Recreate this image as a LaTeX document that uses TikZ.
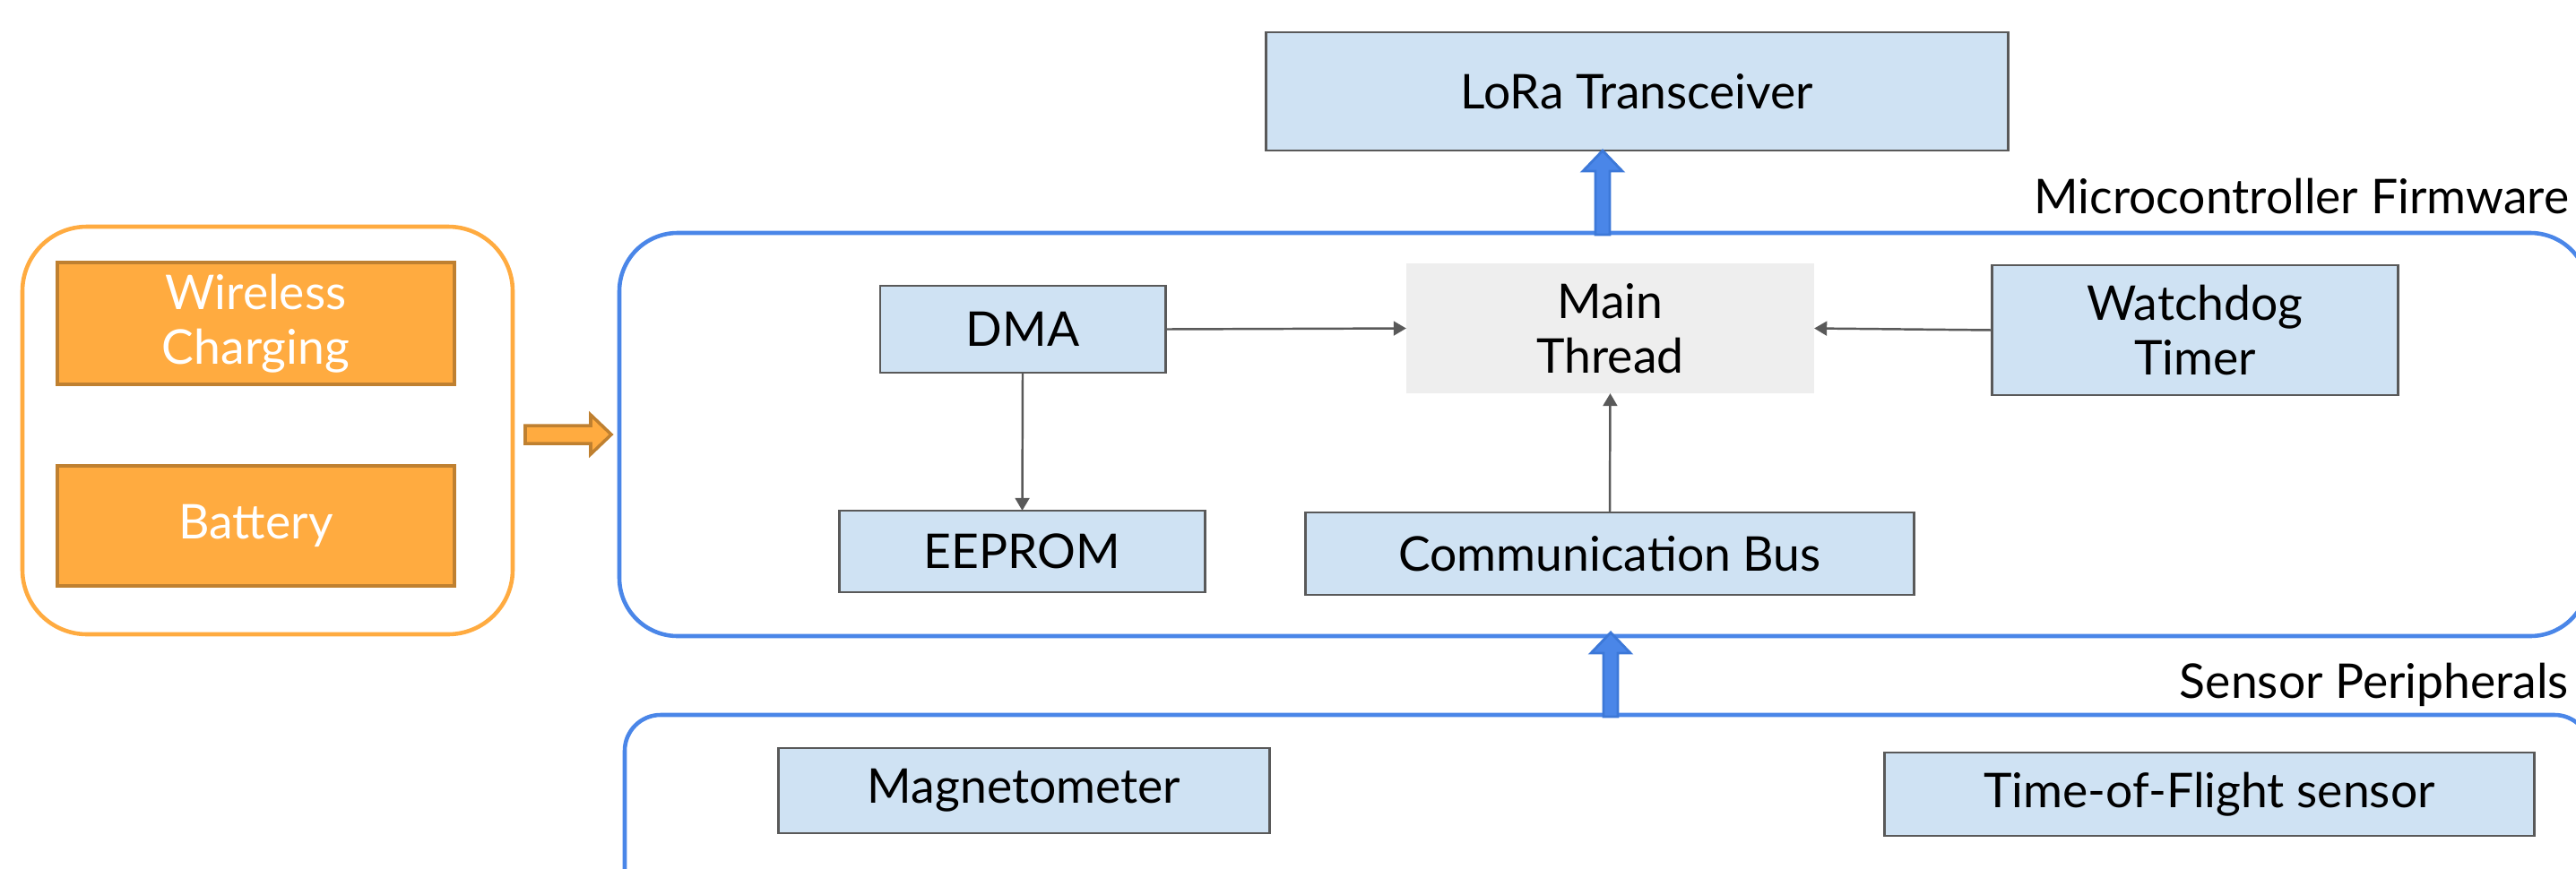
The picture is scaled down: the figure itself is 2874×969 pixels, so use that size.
\documentclass[tikz,border=0pt]{standalone}
\usepackage{fontspec}
\setmainfont{Lato}
\usetikzlibrary{arrows.meta,calc}
\definecolor{boxblue}{HTML}{CFE2F3}
\definecolor{boxedge}{HTML}{595959}
\definecolor{orfill}{HTML}{FFAB40}
\definecolor{oredge}{HTML}{BF8030}
\definecolor{lineblue}{HTML}{4A86E8}
\definecolor{arrowedge}{HTML}{3C78D8}
\definecolor{mainfill}{HTML}{EEEEEE}
\begin{document}
\begin{tikzpicture}[x=0.01cm,y=-0.01cm,
  every node/.style={font=\fontsize{15.2pt}{17.4pt}\selectfont, inner sep=0pt, outer sep=0pt, align=center},
  bluebox/.style={rectangle, fill=boxblue, draw=boxedge, line width=0.8pt},
  orbox/.style={rectangle, fill=orfill, draw=oredge, line width=1.1pt, text=white},
  mainbox/.style={rectangle, fill=mainfill},
  container/.style={draw=lineblue, line width=1.3pt},
  orcontainer/.style={draw=orfill, line width=1.3pt, rounded corners=0.72cm},
  thinarrow/.style={draw=boxedge, line width=0.7pt, -{Triangle[length=4pt,width=4.5pt]}},
  bluearrow/.style={fill=lineblue, draw=arrowedge, line width=0.8pt, line join=miter},
  orarrow/.style={fill=orfill, draw=oredge, line width=1pt, line join=miter}
]
\useasboundingbox (0,0) rectangle (2874,969);
\clip (0,0) rectangle (2874,969);

% containers
\draw[orcontainer] (25,253) rectangle (572,708);
\draw[container, rounded corners=0.65cm] (691,260) rectangle (2888,710);
\draw[container, rounded corners=0.4cm] (697,798) rectangle (2890,1100);

% labels
\node[anchor=base east] (fwlabel) at (2866,238) {Microcontroller Firmware};
\node[anchor=base east] (senslabel) at (2866,779) {Sensor Peripherals};

% nodes
\node[bluebox, minimum width=8.27cm, minimum height=1.32cm] (lora) at (1826.5,102) {LoRa Transceiver};
\node[bluebox, minimum width=3.18cm, minimum height=0.97cm] (dma) at (1141,367.5) {DMA};
\node[mainbox, minimum width=4.55cm, minimum height=1.45cm] (main) at (1796.5,366.5) {Main\\Thread};
\node[bluebox, minimum width=4.52cm, minimum height=1.45cm] (wdt) at (2449,368.5) {Watchdog\\Timer};
\node[bluebox, minimum width=4.07cm, minimum height=0.91cm] (eeprom) at (1140.5,615.5) {EEPROM};
\node[bluebox, minimum width=6.78cm, minimum height=0.92cm] (bus) at (1796,618) {Communication Bus};
\node[bluebox, minimum width=5.47cm, minimum height=0.95cm] (mag) at (1142.5,882.5) {Magnetometer};
\node[bluebox, minimum width=7.24cm, minimum height=0.93cm] (tof) at (2465,886.5) {Time-of-Flight sensor};
\node[orbox, minimum width=4.43cm, minimum height=1.36cm] (wc) at (285.5,361) {Wireless\\Charging};
\node[orbox, minimum width=4.43cm, minimum height=1.34cm] (bat) at (285.5,587) {Battery};

% thin connectors
\draw[thinarrow] (dma.east) -- (main.west);
\draw[thinarrow] (wdt.west) -- (main.east);
\draw[thinarrow] (bus.north) -- (main.south);
\draw[thinarrow] (dma.south) -- (eeprom.north);

% block arrows
\coordinate (a1t) at (1788,262);
\coordinate (a1h) at (a1t |- lora.south);
\draw[bluearrow] ($(a1t)+(-8,0)$) -- ($(a1h)+(-8,23)$) -- ($(a1h)+(-22,23)$) -- (a1h)
  -- ($(a1h)+(22,23)$) -- ($(a1h)+(8,23)$) -- ($(a1t)+(8,0)$) -- cycle;

\coordinate (a2t) at (1797,800);
\coordinate (a2h) at (1797,706);
\draw[bluearrow] ($(a2t)+(-8,0)$) -- ($(a2h)+(-8,23)$) -- ($(a2h)+(-22,23)$) -- (a2h)
  -- ($(a2h)+(22,23)$) -- ($(a2h)+(8,23)$) -- ($(a2t)+(8,0)$) -- cycle;

\coordinate (a3t) at (586,485);
\coordinate (a3h) at (682,485);
\draw[orarrow] ($(a3t)+(0,-10)$) -- ($(a3h)+(-23,-10)$) -- ($(a3h)+(-23,-22)$) -- (a3h)
  -- ($(a3h)+(-23,22)$) -- ($(a3h)+(-23,10)$) -- ($(a3t)+(0,10)$) -- cycle;
\end{tikzpicture}
\end{document}
